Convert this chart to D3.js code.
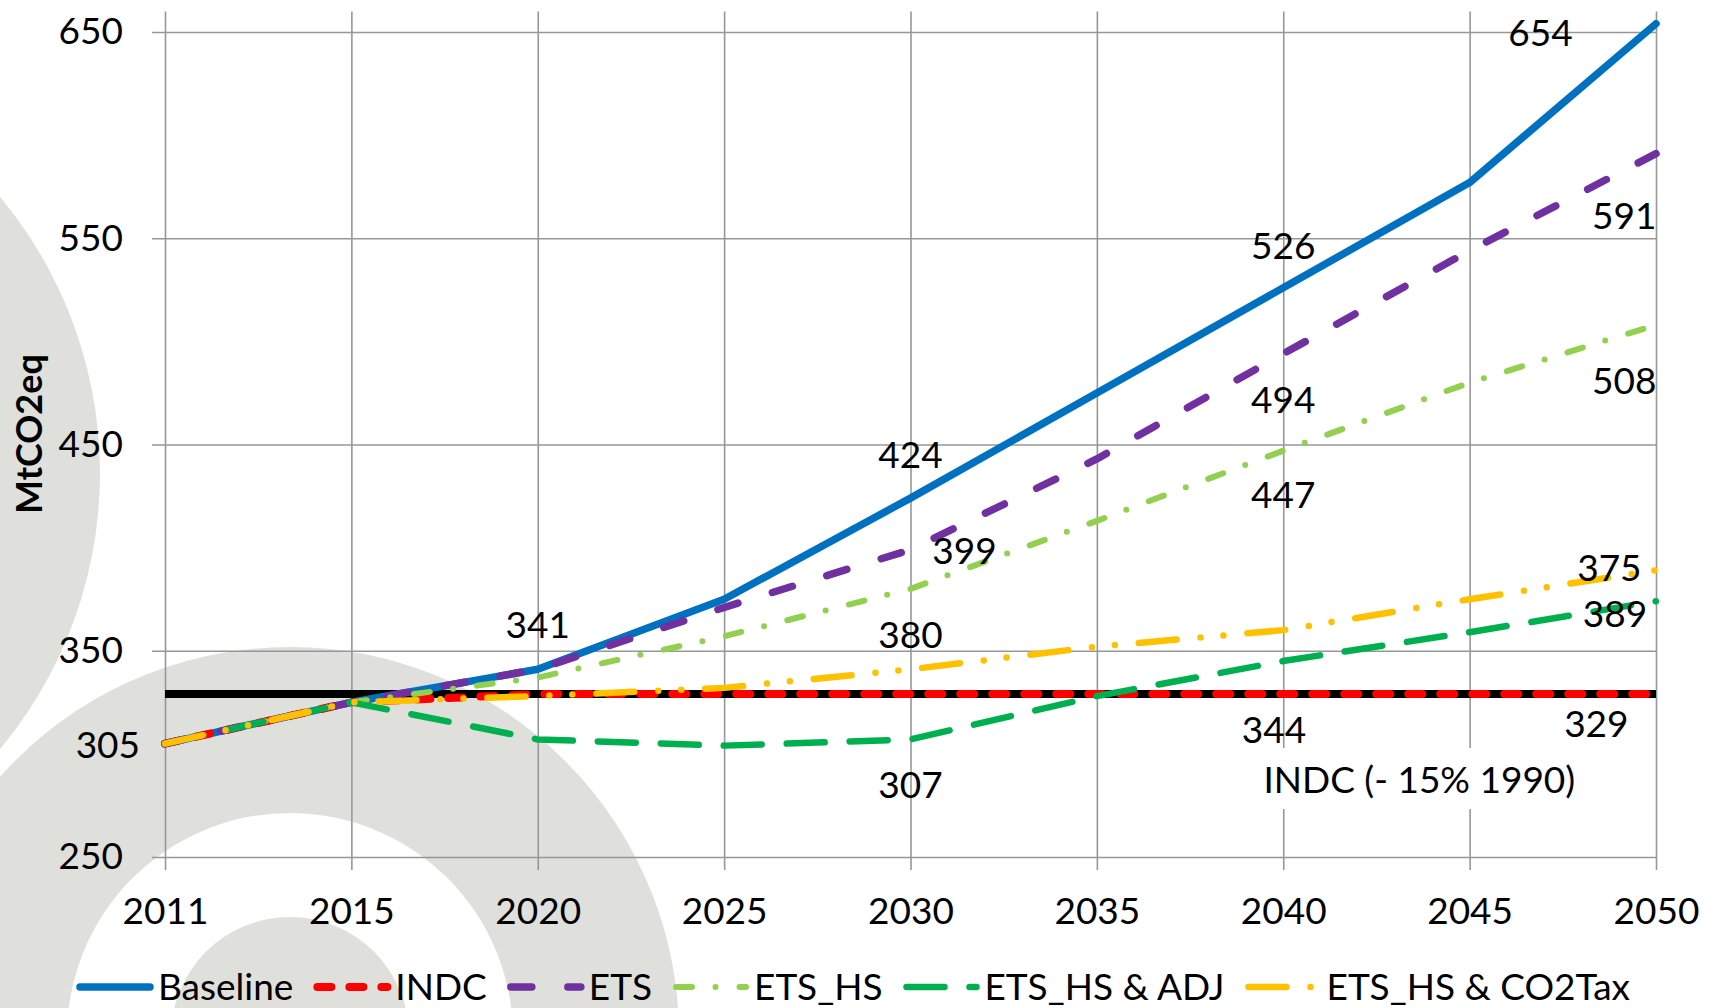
<!DOCTYPE html>
<html>
<head>
<meta charset="utf-8">
<script src="https://cdn.jsdelivr.net/npm/d3@7"></script>
<style>
  html, body { margin: 0; padding: 0; background: #fff; }
  svg { display: block; font-family: Lato, 'Open Sans', sans-serif; }
</style>
</head>
<body>
<div id="chart"></div>
<script>
// categories (x axis is categorical, equally spaced)
const years = ['2011', '2015', '2020', '2025', '2030', '2035', '2040', '2045', '2050']

// MtCO2eq per scenario
const baseline = [305, 325, 341, 375, 424, 475, 526, 577, 654]
const indc = [305, 325, 329, 329, 329, 329, 329, 329, 329]
const ets = [305, 325, 341, 371, 399, 443, 494, 544, 591]
const etsHs = [305, 325, 337, 357, 380, 413, 447, 480, 508]
const etsHsAdj = [305, 325, 307, 304, 307, 328, 345, 359, 374]
const etsHsCo2Tax = [305, 325, 328, 332, 341, 352, 360, 375, 389]
const target = [329, 329, 329, 329, 329, 329, 329, 329, 329] // INDC (-15% 1990)

const yTicks = [250, 350, 450, 550, 650]

// data labels as drawn in the source (category index, value, text)
const labelIdx = [7.38, 7.83, 6.0, 7.83, 6.0, 4.0, 6.0, 4.29, 7.75, 7.78, 2.0, 4.0, 7.68, 5.95, 4.0, -0.134]
const labelVal = [649.5, 560.8, 546.2, 480.8, 471.6, 444.9, 425.5, 398.4, 390.1, 367.8, 362.5, 357.6, 314.5, 311.6, 285, 304.3]
const labelText = ['654', '591', '526', '508', '494', '424', '447', '399', '375', '389', '341', '380', '329', '344', '307', '305']

const width = 1710
const height = 1008
const margin = { top: 32, right: 54, bottom: 151, left: 165 }

const svg = d3.select('#chart').append('svg')
  .attr('width', width)
  .attr('height', height)

// faint logo watermark behind the chart
const mark = svg.append('g').attr('fill', '#dfdfdb')
mark.append('circle').attr('cx', -331).attr('cy', 473).attr('r', 431)
mark.append('circle').attr('cx', 290).attr('cy', 1036).attr('r', 306)
  .attr('fill', 'none').attr('stroke', '#dfdfdb').attr('stroke-width', 166)
mark.append('circle').attr('cx', 290).attr('cy', 1036).attr('r', 119)

const x = d3.scaleLinear()
  .domain([0, years.length - 1])
  .range([margin.left, width - margin.right])

const y = d3.scaleLinear()
  .domain([250, 650])
  .range([height - margin.bottom, margin.top])

const gridColor = '#979797'
const tickOut = 13

// horizontal gridlines + y tick labels
const yAxis = svg.append('g')
  .attr('transform', 'translate(' + (margin.left - tickOut) + ',0)')
  .call(d3.axisLeft(y)
    .tickValues(yTicks)
    .tickSize(-(width - margin.right - margin.left + tickOut))
    .tickPadding(29))
yAxis.select('.domain').remove()

// vertical gridlines + x tick labels
const xAxis = svg.append('g')
  .attr('transform', 'translate(0,' + (y(250) + tickOut) + ')')
  .call(d3.axisBottom(x)
    .tickValues(d3.range(years.length))
    .tickFormat(i => years[i])
    .tickSize(-(y(250) + tickOut - y(660)))
    .tickPadding(28))
xAxis.select('.domain').remove()

svg.selectAll('.tick line')
  .attr('stroke', gridColor)
  .attr('stroke-width', 1.6)
svg.selectAll('.tick text')
  .attr('font-family', 'Lato, sans-serif')
  .attr('font-size', 37)
  .attr('fill', '#000')

svg.append('text')
  .attr('transform', 'translate(29,434) rotate(-90)')
  .attr('text-anchor', 'middle')
  .attr('dy', '0.35em')
  .attr('font-size', 36)
  .attr('font-weight', 'bold')
  .text('MtCO2eq')

const series = [
  { name: 'target', values: target, color: '#000000', width: 8, dash: null, legend: false },
  { name: 'Baseline', values: baseline, color: '#0070C0', width: 7.5, dash: null, legend: true },
  { name: 'INDC', values: indc, color: '#FF0000', width: 8, dash: '14,18', legend: true },
  { name: 'ETS', values: ets, color: '#7030A0', width: 7.5, dash: '21,36', legend: true },
  { name: 'ETS_HS', values: etsHs, color: '#92D050', width: 6, dash: '16,23.5,0,24', legend: true },
  { name: 'ETS_HS & ADJ', values: etsHsAdj, color: '#00B050', width: 6.5, dash: '38,25', legend: true },
  { name: 'ETS_HS & CO2Tax', values: etsHsCo2Tax, color: '#FFC000', width: 6.5, dash: '38,24,0,23,0,24', legend: true }
]

const line = d3.line()
  .x((d, i) => x(i))
  .y(d => y(d))

svg.append('g')
  .selectAll('path')
  .data(series)
  .join('path')
  .attr('d', d => line(d.values))
  .attr('fill', 'none')
  .attr('stroke', d => d.color)
  .attr('stroke-width', d => d.width)
  .attr('stroke-dasharray', d => d.dash)
  .attr('stroke-linecap', d => d.name === 'target' ? 'butt' : 'round')
  .attr('stroke-linejoin', 'round')

// data labels
svg.append('g')
  .selectAll('text')
  .data(labelText)
  .join('text')
  .attr('x', (d, i) => x(labelIdx[i]))
  .attr('y', (d, i) => y(labelVal[i]))
  .attr('dy', '0.35em')
  .attr('text-anchor', (d, i) => labelIdx[i] < 0 ? 'end' : 'middle')
  .attr('font-size', 37)
  .text(d => d)

// INDC target label with white box
const note = svg.append('g')
const noteText = note.append('text')
  .attr('x', x(6.73))
  .attr('y', y(287.3))
  .attr('dy', '0.35em')
  .attr('text-anchor', 'middle')
  .attr('font-size', 37)
  .text('INDC (- 15% 1990)')
const nb = noteText.node().getBBox()
note.insert('rect', 'text')
  .attr('x', nb.x - 8)
  .attr('y', nb.y - 8)
  .attr('width', nb.width + 16)
  .attr('height', nb.height + 16)
  .attr('fill', '#fff')

// legend
const legend = svg.append('g').attr('transform', 'translate(0,987)')
const markLen = 70
let cursor = 0
series.filter(s => s.legend).forEach(s => {
  const g = legend.append('g')
  g.append('line')
    .attr('x1', 0).attr('x2', markLen)
    .attr('stroke', s.color)
    .attr('stroke-width', s.width)
    .attr('stroke-dasharray', s.dash)
    .attr('stroke-linecap', 'round')
  const t = g.append('text')
    .attr('x', markLen + 8)
    .attr('dy', '0.35em')
    .attr('font-size', 37)
    .text(s.name)
  const w = markLen + 8 + t.node().getComputedTextLength()
  g.attr('transform', 'translate(' + cursor + ',0)')
  cursor += w + 24
})
const total = cursor - 24
legend.attr('transform', 'translate(' + (width / 2 - total / 2) + ',987)')
</script>
</body>
</html>
